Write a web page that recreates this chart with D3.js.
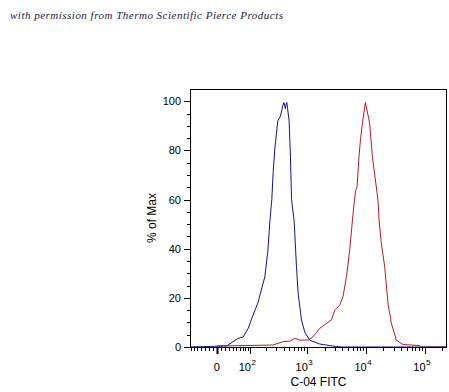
<!DOCTYPE html>
<html>
<head>
<meta charset="utf-8">
<script src="https://cdn.jsdelivr.net/npm/d3@7"></script>
<style>
  body { margin: 0; background: #fff; }
  svg text { font-family: "Liberation Sans", Arial, sans-serif; fill: #000; }
</style>
</head>
<body>
<div id="chart"></div>
<script>
const width = 449;
const height = 392;

// Histogram traces: [FITC intensity, % of Max]
const controlTrace = [
  [-75, 0], [0, 0.3], [24, 0.5], [55, 3.5], [72, 4], [92, 7.5], [115, 13], [142, 18],
  [167, 24], [189, 28.5], [214, 39], [232, 51], [251, 60], [265, 71], [284, 81],
  [319, 92], [355, 94], [385, 97.7], [405, 99.5], [418, 98.5], [430, 97], [445, 99],
  [456, 99.5], [470, 97], [499, 92], [527, 77], [549, 60], [607, 51.5], [624, 46],
  [667, 32.5], [710, 22], [812, 11], [924, 6], [1120, 2.8], [1660, 1.2], [2760, 0.4],
  [4000, 0], [240000, 0]
];
const stainedTrace = [
  [0, 0.4], [262, 0.8], [395, 2.2], [513, 2.4], [624, 3.5], [759, 2.8], [1050, 2.8],
  [1280, 4.2], [1660, 7.6], [2160, 9.6], [2620, 11], [2980, 15], [3620, 17], [4120, 20.5],
  [4710, 28.6], [5350, 39.4], [5950, 51.6], [6340, 58.4], [6770, 63.8], [7120, 65],
  [7690, 77.4], [8120, 84], [8790, 91], [9880, 99.5], [11680, 91], [12980, 77.4],
  [16180, 59.8], [16830, 51.6], [18480, 42], [21010, 32.6], [23900, 17.7], [27300, 9.6],
  [33150, 2.8], [42900, 1], [82300, 0.6], [88000, 0], [240000, 0]
];

const xDomain = [-75, 240000];
const yDomain = [0, 105];
const xMajorTicks = [0, 100, 1000, 10000, 100000];
const xMajorLabels = ["0", "2", "3", "4", "5"]; // exponents, "0" is plain
const xMinorTicks = [-70, -60, -50, -40, -30, -20, -10, 10, 20, 30, 40, 50, 60, 70, 80, 90,
  200, 300, 400, 500, 600, 700, 800, 900, 2000, 3000, 4000, 5000, 6000, 7000, 8000, 9000,
  20000, 30000, 40000, 50000, 60000, 70000, 80000, 90000, 200000];
const yMajorTicks = [0, 20, 40, 60, 80, 100];
const yMinorTicks = [5, 10, 15, 25, 30, 35, 45, 50, 55, 65, 70, 75, 85, 90, 95];

const margin = {top: 89, right: 2, bottom: 45, left: 190};

// logicle-like (arcsinh) transform for the x axis
const W = 59.6;
const tx = v => Math.asinh(v / W);

const xLin = d3.scaleLinear()
  .domain(xDomain.map(tx))
  .range([margin.left, width - margin.right]);
const x = v => xLin(tx(v));

const y = d3.scaleLinear()
  .domain(yDomain)
  .range([height - margin.bottom, margin.top]);

const svg = d3.select("#chart").append("svg")
  .attr("width", width)
  .attr("height", height);

// credit line
svg.append("text")
  .attr("x", 10)
  .attr("y", 19)
  .attr("textLength", 273)
  .style("font-family", "'Liberation Serif', 'DejaVu Serif', serif")
  .style("font-style", "italic")
  .style("font-size", "11px")
  .style("fill", "#23233f")
  .text("with permission from Thermo Scientific Pierce Products");

const x0 = margin.left, x1 = width - margin.right;
const y0 = height - margin.bottom, y1 = margin.top;

// traces
const line = d3.line().x(d => x(d[0])).y(d => y(d[1]));

svg.append("path")
  .datum(stainedTrace)
  .attr("fill", "none")
  .attr("stroke", "#b81c24")
  .attr("stroke-width", 1)
  .attr("d", line);

svg.append("path")
  .datum(controlTrace)
  .attr("fill", "none")
  .attr("stroke", "#14148a")
  .attr("stroke-width", 1)
  .attr("d", line);

// frame
svg.append("rect")
  .attr("x", x0 + 0.5)
  .attr("y", y1 + 0.5)
  .attr("width", x1 - x0 - 1)
  .attr("height", y0 - y1)
  .attr("fill", "none")
  .attr("stroke", "#000");

// y axis ticks
const yAxis = svg.append("g");
yAxis.selectAll("line.major").data(yMajorTicks).join("line")
  .attr("x1", x0 - 6).attr("x2", x0)
  .attr("y1", d => Math.round(y(d)) + 0.5).attr("y2", d => Math.round(y(d)) + 0.5)
  .attr("stroke", "#000");
yAxis.selectAll("line.minor").data(yMinorTicks).join("line")
  .attr("x1", x0 - 3).attr("x2", x0)
  .attr("y1", d => Math.round(y(d)) + 0.5).attr("y2", d => Math.round(y(d)) + 0.5)
  .attr("stroke", "#000");
yAxis.selectAll("text").data(yMajorTicks).join("text")
  .attr("x", x0 - 9)
  .attr("y", d => y(d) + 4)
  .attr("text-anchor", "end")
  .style("font-size", "11px")
  .text(d => d);

svg.append("text")
  .attr("transform", `translate(156,${(y0 + y1) / 2}) rotate(-90)`)
  .attr("text-anchor", "middle")
  .style("font-size", "12px")
  .text("% of Max");

// x axis ticks
const xAxis = svg.append("g");
xAxis.selectAll("line.minor").data(xMinorTicks).join("line")
  .attr("x1", d => Math.round(x(d)) + 0.5).attr("x2", d => Math.round(x(d)) + 0.5)
  .attr("y1", y0).attr("y2", y0 + 4)
  .attr("stroke", "#000");
xAxis.selectAll("line.major").data(xMajorTicks).join("line")
  .attr("x1", d => Math.round(x(d)) + 0.5).attr("x2", d => Math.round(x(d)) + 0.5)
  .attr("y1", y0).attr("y2", y0 + 7)
  .attr("stroke", "#000")
  .attr("stroke-width", (d, i) => i === 0 ? 2 : 1);

xMajorTicks.forEach((t, i) => {
  if (i === 0) {
    svg.append("text")
      .attr("x", x(t))
      .attr("y", y0 + 24)
      .attr("text-anchor", "middle")
      .style("font-size", "11px")
      .text(xMajorLabels[i]);
  } else {
    svg.append("text")
      .attr("x", x(t) + 1)
      .attr("y", y0 + 24)
      .attr("text-anchor", "end")
      .style("font-size", "11px")
      .text("10");
    svg.append("text")
      .attr("x", x(t) + 1.5)
      .attr("y", y0 + 18)
      .style("font-size", "8px")
      .text(xMajorLabels[i]);
  }
});

svg.append("text")
  .attr("x", (x0 + x1) / 2)
  .attr("y", y0 + 39)
  .attr("text-anchor", "middle")
  .style("font-size", "12px")
  .text("C-04 FITC");
</script>
</body>
</html>
